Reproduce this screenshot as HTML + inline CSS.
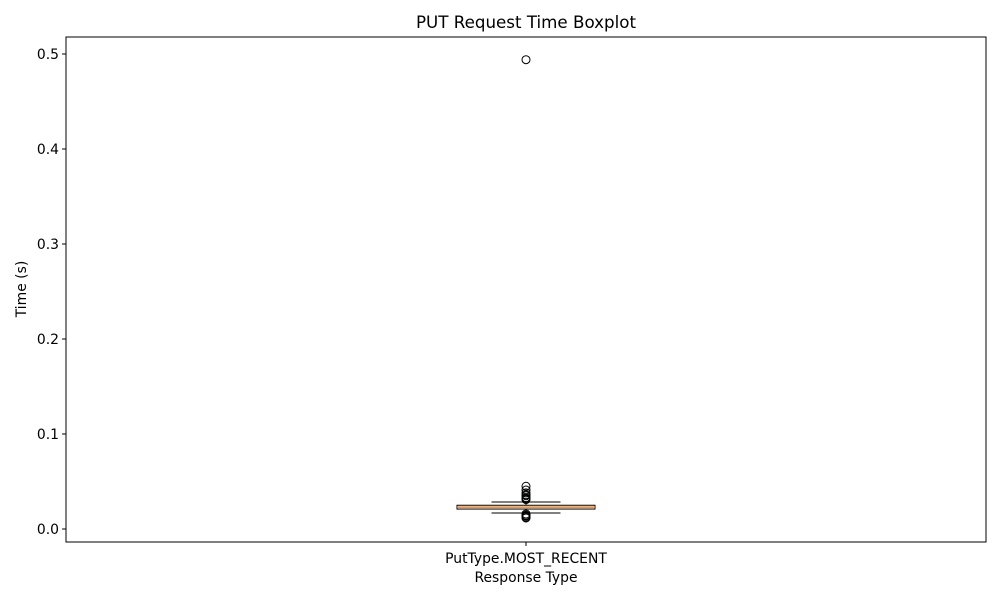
<!DOCTYPE html>
<html><head><meta charset="utf-8"><style>body{margin:0;background:#fff}svg text{font-family:"DejaVu Sans","Liberation Sans",sans-serif}</style></head>
<body>
<svg id="c" width="1000" height="600" xmlns="http://www.w3.org/2000/svg"></svg>
<script>
const categories = ["PutType.MOST_RECENT"];
const whiskerLow = [0.0168];
const q1 = [0.021];
const median = [0.023];
const q3 = [0.025];
const whiskerHigh = [0.0284];
const outliers = [[0.494, 0.045, 0.041, 0.038, 0.036, 0.035, 0.033, 0.032, 0.031, 0.0158, 0.0145, 0.0137, 0.0125, 0.0116]];
const yTicks = [0, 0.1, 0.2, 0.3, 0.4, 0.5];
const yTickLabels = ["0.0","0.1","0.2","0.3","0.4","0.5"];

const svg = document.getElementById('c');
const NS = 'http://www.w3.org/2000/svg';
const L=66, R=986, T=37, B=542;
const y = v => 529 - v*950;
const x = i => L + (R-L)*(i+0.5)/categories.length;
function mk(tag, attrs, name, text){
  const e=document.createElementNS(NS,tag);
  for(const k in attrs) e.setAttribute(k,attrs[k]);
  
  
  if(text!==undefined) e.textContent=text;
  svg.appendChild(e); return e;
}
mk('rect',{x:L,y:T,width:R-L,height:B-T,fill:'none',stroke:'#000','stroke-width':1},'plot-frame');
yTicks.forEach((t,i)=>{
  mk('line',{x1:L-4,x2:L,y1:y(t),y2:y(t),stroke:'#000'},'y-tick');
  mk('text',{x:L-7,y:y(t)+5,'text-anchor':'end','font-size':13.9},'y-tick-label',yTickLabels[i]);
});
categories.forEach((c,i)=>{
  const cx=x(i), bw=138, cw=69;
  mk('line',{x1:cx,x2:cx,y1:B,y2:B+4,stroke:'#000'},'x-tick');
  mk('text',{x:cx,y:B+21,'text-anchor':'middle','font-size':13.9},'x-tick-label',c);
  mk('line',{x1:cx,x2:cx,y1:y(q3[i]),y2:y(whiskerHigh[i]),stroke:'#000'},'upper-whisker');
  mk('line',{x1:cx,x2:cx,y1:y(q1[i]),y2:y(whiskerLow[i]),stroke:'#000'},'lower-whisker');
  mk('line',{x1:cx-cw/2,x2:cx+cw/2,y1:y(whiskerHigh[i]),y2:y(whiskerHigh[i]),stroke:'#000'},'upper-cap');
  mk('line',{x1:cx-cw/2,x2:cx+cw/2,y1:y(whiskerLow[i]),y2:y(whiskerLow[i]),stroke:'#000'},'lower-cap');
  mk('rect',{x:cx-bw/2,y:y(q3[i]),width:bw,height:y(q1[i])-y(q3[i]),fill:'none',stroke:'#000'},'iqr-box');
  mk('line',{x1:cx-bw/2,x2:cx+bw/2,y1:y(median[i]),y2:y(median[i]),stroke:'#ff7f0e','stroke-width':1.5},'median-line');
  outliers[i].forEach(v=>mk('circle',{cx:cx,cy:y(v),r:4,fill:'none',stroke:'#000'},'outlier-point'));
});
mk('text',{x:526,y:582,'text-anchor':'middle','font-size':13.9},'x-axis-title','Response Type');
mk('text',{x:26,y:289,'text-anchor':'middle','font-size':13.9,transform:'rotate(-90 26 289)'},'y-axis-title','Time (s)');
mk('text',{x:526,y:28,'text-anchor':'middle','font-size':16.7},'chart-title','PUT Request Time Boxplot');
</script>
</body></html>
